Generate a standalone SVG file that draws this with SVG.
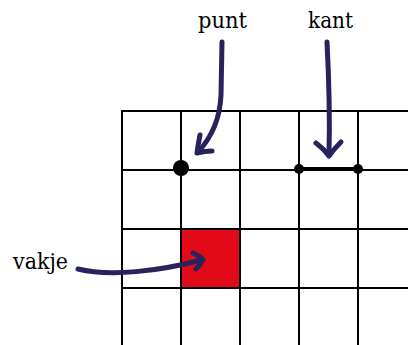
<svg xmlns="http://www.w3.org/2000/svg" width="408" height="345" viewBox="0 0 408 345">
  <style>
    .grid { stroke: #000; stroke-width: 2; fill: none; }
    .arrow { stroke: #29235c; stroke-width: 5; fill: none; stroke-linecap: round; stroke-linejoin: round; }
  </style>

  <!-- filled cell -->
  <g id="vakje-cell">
    <rect x="181" y="229" width="59" height="59" fill="#e20a17"/>
  </g>

  <!-- square grid -->
  <g id="grid" class="grid">
    <line x1="122" y1="111" x2="408" y2="111"/>
    <line x1="122" y1="170" x2="408" y2="170"/>
    <line x1="122" y1="229" x2="408" y2="229"/>
    <line x1="122" y1="288" x2="408" y2="288"/>
    <line x1="122" y1="110" x2="122" y2="345"/>
    <line x1="181" y1="110" x2="181" y2="345"/>
    <line x1="240" y1="110" x2="240" y2="345"/>
    <line x1="299" y1="110" x2="299" y2="345"/>
    <line x1="358" y1="110" x2="358" y2="345"/>
  </g>

  <!-- vertex -->
  <g id="punt-node">
    <circle cx="181" cy="168" r="8" fill="#000"/>
  </g>

  <!-- edge -->
  <g id="kant-node">
    <line x1="299" y1="169" x2="358" y2="169" stroke="#000" stroke-width="4"/>
    <circle cx="299" cy="169" r="5" fill="#000"/>
    <circle cx="358" cy="169" r="5" fill="#000"/>
  </g>

  <!-- labels -->
  <g id="labels" font-family="'DejaVu Serif', serif" font-size="22" fill="#000">
    <text x="198" y="28" textLength="49" lengthAdjust="spacingAndGlyphs">punt</text>
    <text x="308" y="28" textLength="45" lengthAdjust="spacingAndGlyphs">kant</text>
    <text x="13" y="269" textLength="55" lengthAdjust="spacingAndGlyphs">vakje</text>
  </g>

  <!-- hand-drawn pointers -->
  <g id="connectors" class="arrow">
    <path d="M222,42 L221,95 C220,120 211,138 198,152"/>
    <path d="M200,135 Q198,145 197,153 Q205,151 212,151"/>
    <path d="M327,42 C329,80 330,115 329,155"/>
    <path d="M316,143 Q324,149 329,156 Q334,149 341,142"/>
    <path d="M78,269 C110,277 160,271 201,260"/>
    <path d="M193,253 Q200,256 203,260 Q200,265 196,269"/>
  </g>
</svg>
